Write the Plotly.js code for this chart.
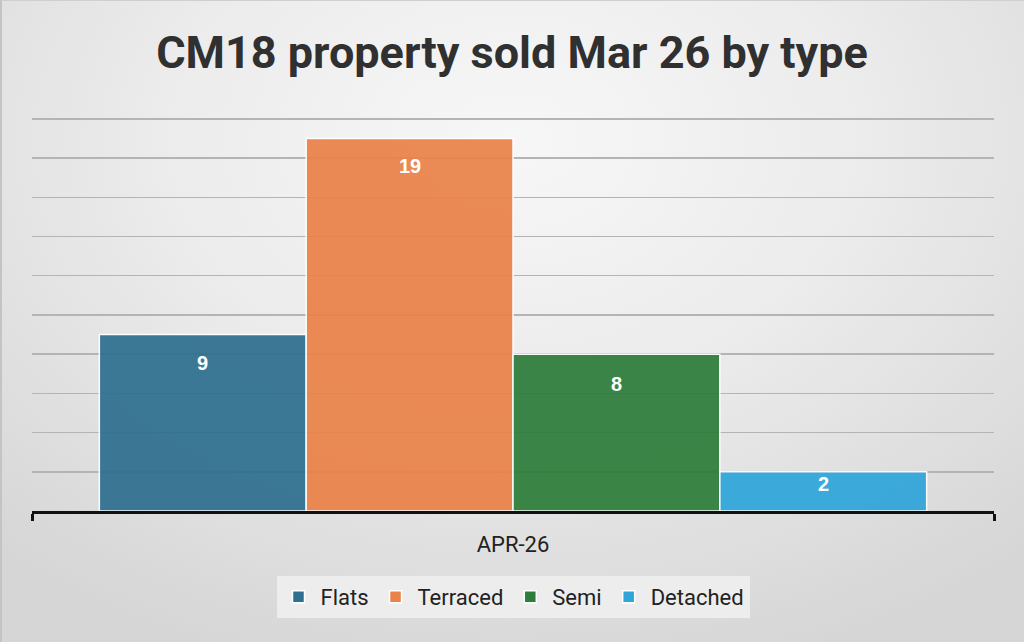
<!DOCTYPE html>
<html>
<head>
<meta charset="utf-8">
<script src="https://cdn.plot.ly/plotly-3.0.1.min.js"></script>
<style>
  html, body { margin: 0; padding: 0; }
  body {
    width: 1024px; height: 642px; overflow: hidden; position: relative;
    background: radial-gradient(ellipse 75% 85% at 50% 22%, #f7f7f7 0%, #ececec 45%, #d6d6d6 100%);
  }
  #chart { width: 1024px; height: 642px; }
  #frame { position: absolute; left: 0; top: 0; width: 1024px; height: 642px; box-sizing: border-box;
           border-left: 2px solid #c4c4c4; border-top: 1px solid #cfcfcf; pointer-events: none; }
</style>
</head>
<body>
<div id="chart"></div>
<div id="frame"></div>
<script>
const categories = ['APR-26'];
const seriesNames = ['Flats', 'Terraced', 'Semi', 'Detached'];
const flats = [9];
const terraced = [19];
const semi = [8];
const detached = [2];
const tickValues = [0, 2, 4, 6, 8, 10, 12, 14, 16, 18, 20];

const seriesValues = [flats, terraced, semi, detached];
const colors = ['#2f7090', '#ea8249', '#2e7d3b', '#2fa5d9'];
const labelShift = [-28, -28, -30, -12];
const bargap = 0.14;

const traces = seriesValues.map((vals, i) => ({
  type: 'bar',
  name: seriesNames[i],
  x: categories,
  y: vals,
  marker: { color: colors[i], opacity: 0.93, line: { color: '#ffffff', width: 1.5 } },
  hoverinfo: 'none'
}));

const n = seriesValues.length;
const annotations = [];
seriesValues.forEach((vals, i) => {
  vals.forEach((v, j) => {
    annotations.push({
      x: j + (i - (n - 1) / 2) * (1 - bargap) / n,
      y: v,
      xref: 'x', yref: 'y',
      text: String(v),
      showarrow: false,
      yshift: labelShift[i],
      font: { family: 'Liberation Sans, Arial, sans-serif', size: 20, color: '#ffffff', weight: 'bold' }
    });
  });
});

const layout = {
  width: 1024, height: 642,
  paper_bgcolor: 'rgba(0,0,0,0)',
  plot_bgcolor: 'rgba(0,0,0,0)',
  margin: { l: 32, r: 30, t: 113, b: 131 },
  title: {
    text: '<b>CM18 property sold Mar 26 by type</b>',
    x: 0.5, xanchor: 'center', y: 0.918, yanchor: 'middle',
    font: { family: 'Roboto, sans-serif', size: 45, color: '#303030' }
  },
  barmode: 'group',
  bargap: bargap,
  bargroupgap: 0,
  showlegend: true,
  legend: {
    orientation: 'h', x: 0.5, xanchor: 'center', y: -0.163, yanchor: 'top',
    bgcolor: 'rgba(238,238,238,0.9)',
    font: { family: 'Roboto, sans-serif', size: 22, color: '#222' },
    itemwidth: 34,
    traceorder: 'normal'
  },
  xaxis: {
    type: 'category',
    showline: true, linecolor: '#111', linewidth: 3,
    ticks: 'outside', tickson: 'boundaries', ticklen: 7, tickwidth: 3, tickcolor: '#111',
    ticklabelstandoff: 12,
    tickfont: { family: 'Roboto, sans-serif', size: 22, color: '#222' },
    showgrid: false, zeroline: false, fixedrange: true
  },
  yaxis: {
    range: [0, 20.3],
    tickvals: tickValues,
    showticklabels: false,
    showgrid: true, gridcolor: '#b4b4b4', gridwidth: 1.5,
    zeroline: false, showline: false, fixedrange: true
  },
  annotations: annotations
};

Plotly.newPlot('chart', traces, layout, { displayModeBar: false, staticPlot: true });
</script>
</body>
</html>
